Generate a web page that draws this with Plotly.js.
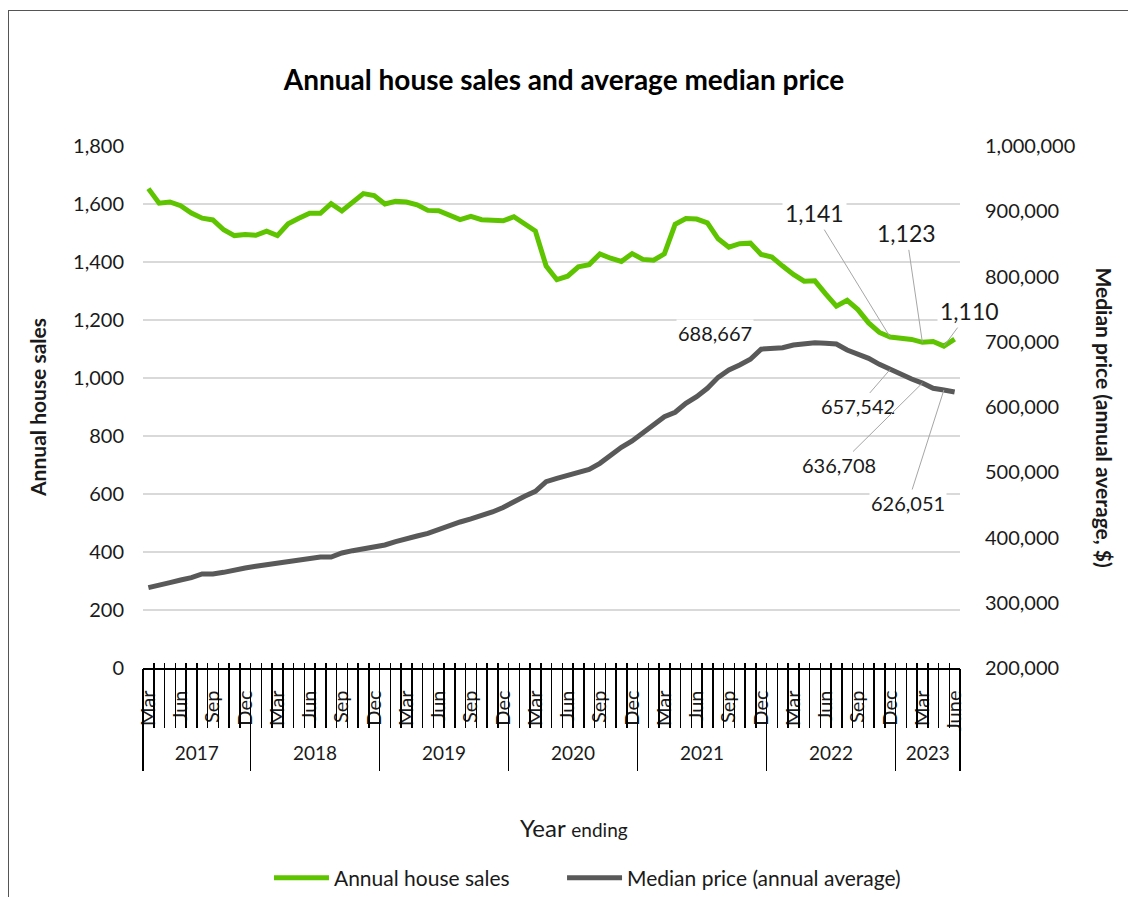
<!DOCTYPE html>
<html>
<head>
<meta charset="utf-8">
<script src="https://cdn.plot.ly/plotly-3.0.1.min.js"></script>
<style>
  html, body { margin: 0; padding: 0; background: #ffffff; }
  #frame { position: absolute; left: 8px; top: 10px; width: 1200px; height: 1000px;
           border-left: 1.5px solid #555; border-top: 1.5px solid #555; }
  #chart { position: absolute; left: 0; top: 0; width: 1128px; height: 897px; }
</style>
</head>
<body>
<div id="frame"></div>
<div id="chart"></div>
<script>
// ---------- data ----------
const years = [2017, 2018, 2019, 2020, 2021, 2022, 2023];
const monthNames = ['Jan','Feb','Mar','Apr','May','Jun','Jul','Aug','Sep','Oct','Nov','Dec'];
const firstMonthIndex = [2, 0, 0, 0, 0, 0, 0];   // Mar 2017, then January
const lastMonthIndex  = [11, 11, 11, 11, 11, 11, 5]; // ... June 2023
const labelledMonths = ['Mar', 'Jun', 'Sep', 'Dec'];
const finalMonthLabel = 'June';

// Annual house sales (rolling 12 months), Mar 2017 .. Jun 2023
const sales = [
  1653, 1603, 1607, 1594, 1569, 1551, 1545, 1511, 1491, 1495,
  1492, 1506, 1491, 1532, 1551, 1568, 1568, 1601, 1576, 1608, 1636, 1629,
  1600, 1609, 1607, 1597, 1578, 1577, 1562, 1546, 1557, 1546, 1544, 1542,
  1556, 1530, 1507, 1386, 1339, 1351, 1383, 1391, 1428, 1413, 1402, 1429,
  1409, 1406, 1428, 1530, 1550, 1548, 1535, 1480, 1451, 1463, 1465, 1426,
  1417, 1386, 1357, 1334, 1335, 1290, 1248, 1268, 1236, 1190, 1157, 1141,
  1138, 1133, 1123, 1126, 1110, 1134
];

// Median price (annual average, $), Mar 2017 .. Jun 2023
const prices = [
  323100, 326200, 330800, 334900, 338400, 344100, 344100, 346600, 350700, 353300,
  355900, 358300, 361400, 362900, 365000, 367000, 370100, 370100, 376200, 379800, 382400, 385400,
  388500, 393600, 398700, 402300, 406400, 412600, 417200, 423800, 428400, 433000, 439100, 446000,
  455600, 463300, 470800, 485500, 490700, 494700, 498900, 504500, 513700, 526000, 538200, 547900,
  559700, 572400, 585200, 591900, 605600, 615800, 628700, 645500, 656700, 664400, 673100, 688667,
  688900, 690900, 695000, 697100, 698600, 697600, 696600, 687400, 681300, 674600, 665400, 657542,
  651600, 642900, 636708, 628700, 626051, 622900
];

const salesLabelMonths = ['Dec 2022', 'Mar 2023', 'May 2023'];
const priceLabelMonths = ['Dec 2021', 'Dec 2022', 'Mar 2023', 'May 2023'];

// ---------- build categories ----------
const periods = [];
const tickVals = [], tickText = [];
const yearCentres = [], yearBoundaries = [];
years.forEach((yr, k) => {
  const start = periods.length;
  yearBoundaries.push(start - 0.5);
  for (let m = firstMonthIndex[k]; m <= lastMonthIndex[k]; m++) {
    const cat = monthNames[m] + ' ' + yr;
    periods.push(cat);
    const isLast = (k === years.length - 1 && m === lastMonthIndex[k]);
    if (isLast) { tickVals.push(cat); tickText.push(finalMonthLabel); }
    else if (labelledMonths.includes(monthNames[m])) { tickVals.push(cat); tickText.push(monthNames[m]); }
  }
  yearCentres.push((start + periods.length - 1) / 2);
});
yearBoundaries.push(periods.length - 0.5);
const monthBoundaries = periods.map((p, i) => i - 0.5).concat([periods.length - 0.5]);
const xr = [-0.5, periods.length - 0.5];

const FONT = 'Lato, "Open Sans", sans-serif';
const TXT = '#1a1a1a';
const GREEN = '#5ec400';
const GREY = '#595959';

const traces = [
  { x: periods, y: sales, name: 'Annual house sales', type: 'scatter', mode: 'lines', legend: 'legend',
    line: { color: GREEN, width: 5 }, xaxis: 'x', yaxis: 'y', hoverinfo: 'x+y' },
  { x: periods, y: prices, name: 'Median price (annual average)', type: 'scatter', mode: 'lines', legend: 'legend2',
    line: { color: GREY, width: 5 }, xaxis: 'x', yaxis: 'y2', hoverinfo: 'x+y' },
  { x: [], y: [], xaxis: 'x2', yaxis: 'y', showlegend: false, hoverinfo: 'skip' },
  { x: [], y: [], xaxis: 'x3', yaxis: 'y', showlegend: false, hoverinfo: 'skip' },
  { x: [], y: [], xaxis: 'x4', yaxis: 'y', showlegend: false, hoverinfo: 'skip' },
  { x: [], y: [], xaxis: 'x5', yaxis: 'y', showlegend: false, hoverinfo: 'skip' }
];

const annotations = [];
const salesOffsets = [[-76, -124], [-16, -109], [26, -35]];
salesLabelMonths.forEach((p, k) => {
  const i = periods.indexOf(p);
  annotations.push({ x: p, y: sales[i], xref: 'x', yref: 'y', text: sales[i].toLocaleString('en-US'),
    showarrow: true, arrowhead: 0, arrowwidth: 1, arrowcolor: '#a6a6a6', standoff: 0,
    ax: salesOffsets[k][0], ay: salesOffsets[k][1], bgcolor: '#ffffff', borderpad: 2,
    font: { family: FONT, size: 23, color: TXT } });
});
const priceOffsets = [null, [-32, 37], [-83, 82], [-36, 113]];
priceLabelMonths.forEach((p, k) => {
  const i = periods.indexOf(p);
  const a = { x: p, y: prices[i], xref: 'x', yref: 'y2', text: prices[i].toLocaleString('en-US'),
    bgcolor: '#ffffff', borderpad: 1, font: { family: FONT, size: 20, color: TXT } };
  if (priceOffsets[k]) {
    Object.assign(a, { showarrow: true, arrowhead: 0, arrowwidth: 1, arrowcolor: '#a6a6a6', standoff: 0,
      ax: priceOffsets[k][0], ay: priceOffsets[k][1] });
  } else {
    Object.assign(a, { showarrow: false, xshift: -46, yshift: 16 });
  }
  annotations.push(a);
});
annotations.push({ xref: 'paper', yref: 'paper', x: 0.527, xanchor: 'center', y: -0.3065, yanchor: 'middle',
  showarrow: false,
  text: 'Year <span style="font-size:19px">ending</span>', font: { family: FONT, size: 24, color: TXT } });
annotations.push({ xref: 'paper', yref: 'paper', x: 1.1775, xanchor: 'center', y: 0.48, yanchor: 'middle',
  showarrow: false, textangle: 90,
  text: '<b>Median price (annual average, $)</b>', font: { family: FONT, size: 21, color: TXT } });

const baseOverlay = { overlaying: 'x', anchor: 'y', side: 'bottom', type: 'linear', range: xr,
  showgrid: false, zeroline: false, showline: false, fixedrange: true, tickmode: 'array', automargin: false };

const legendBase = { orientation: 'h', xanchor: 'left', yref: 'container', y: 0.021, yanchor: 'middle',
  font: { family: FONT, size: 21, color: TXT }, itemwidth: 55, bgcolor: 'rgba(0,0,0,0)' };

const layout = {
  width: 1128, height: 897,
  margin: { l: 143, r: 168, t: 146, b: 229, autoexpand: false },
  paper_bgcolor: 'rgba(0,0,0,0)', plot_bgcolor: 'rgba(0,0,0,0)',
  font: { family: FONT, color: TXT },
  title: { text: '<b>Annual house sales and average median price</b>', x: 0.5, xanchor: 'center',
    y: 0.911, yanchor: 'middle', font: { family: FONT, size: 28, color: '#000' } },
  showlegend: true,
  legend: Object.assign({}, legendBase, { x: 0.1542 }),
  legend2: Object.assign({}, legendBase, { x: 0.5129 }),
  xaxis: { type: 'category', categoryorder: 'array', categoryarray: periods, range: xr,
    tickmode: 'array', tickvals: tickVals, ticktext: tickText, tickangle: -90, automargin: false,
    ticks: '', ticklabelstandoff: 13, tickfont: { family: FONT, size: 20, color: TXT },
    showline: true, linecolor: '#000', linewidth: 1.5, showgrid: false, zeroline: false, fixedrange: true },
  xaxis2: Object.assign({}, baseOverlay, { tickvals: monthBoundaries, ticks: 'outside', ticklen: 59,
    tickcolor: '#000', tickwidth: 1.5, showticklabels: false }),
  xaxis3: Object.assign({}, baseOverlay, { tickvals: monthBoundaries, ticks: 'inside', ticklen: 5,
    tickcolor: '#000', tickwidth: 1.5, showticklabels: false }),
  xaxis4: Object.assign({}, baseOverlay, { tickvals: yearBoundaries, ticks: 'outside', ticklen: 102,
    tickcolor: '#000', tickwidth: 1.5, showticklabels: false }),
  xaxis5: Object.assign({}, baseOverlay, { tickvals: yearCentres, ticktext: years.map(String), ticks: '',
    ticklabelstandoff: 72, tickfont: { family: FONT, size: 19, color: TXT } }),
  yaxis: { range: [0, 1800], dtick: 200, tick0: 0, tickformat: ',d', ticks: '', ticklabelstandoff: 18,
    tickfont: { family: FONT, size: 20, color: TXT }, gridcolor: '#d9d9d9', gridwidth: 1.3,
    showline: false, zeroline: false, fixedrange: true, automargin: false,
    title: { text: '<b>Annual house sales</b>', standoff: 20, font: { family: FONT, size: 21, color: TXT } } },
  yaxis2: { overlaying: 'y', side: 'right', anchor: 'x', range: [200000, 1000000], dtick: 100000, tick0: 200000,
    tickformat: ',d', ticks: '', ticklabelstandoff: 24, showgrid: false, zeroline: false, showline: false,
    tickfont: { family: FONT, size: 20, color: TXT }, fixedrange: true, automargin: false },
  annotations: annotations
};

Plotly.newPlot('chart', traces, layout, { displayModeBar: false, staticPlot: true });
</script>
</body>
</html>
